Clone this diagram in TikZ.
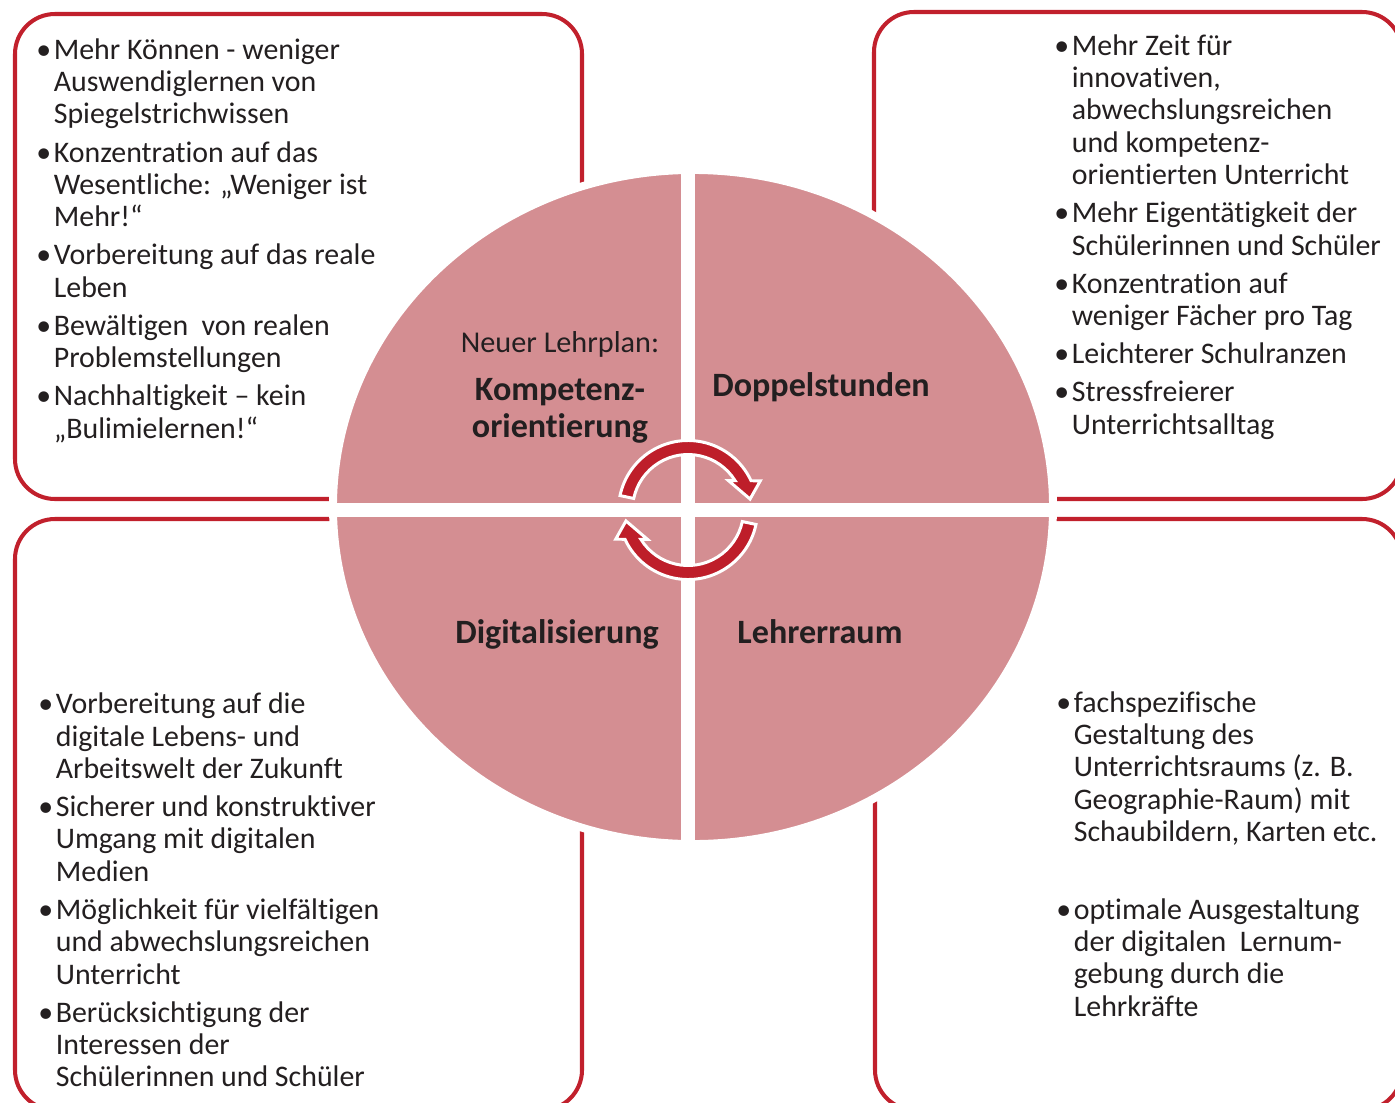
\documentclass[tikz,border=0pt]{standalone}
\usepackage{fontspec}
\setmainfont{Carlito}[Ligatures=NoCommon]
\usepackage{tikz}
\usetikzlibrary{positioning, calc}

\definecolor{boxred}{RGB}{193,32,44}
\definecolor{arrowred}{RGB}{190,30,42}
\definecolor{quadpink}{RGB}{212,142,146}
\definecolor{textdark}{RGB}{35,31,32}

\newcommand{\itembul}{\makebox[0.35cm][l]{\textbullet}}
\newcommand{\itemind}{\hspace*{0.35cm}}

\begin{document}
\begin{tikzpicture}[
  x=0.02cm, y=0.02cm,
  infobox/.style={draw=boxred, line width=2.3pt, rounded corners=0.8cm},
  listtext/.style={anchor=north west, inner sep=0pt, align=left, text=textdark, font=\fontsize{17}{18.4}\selectfont},
  smallword/.style={anchor=base, inner sep=0pt, text=textdark, font=\fontsize{17.2}{18.4}\selectfont},
  bigword/.style={anchor=base, inner sep=0pt, text=textdark, font=\fontsize{19.4}{21}\selectfont\bfseries},
  turnarrow/.style={fill=arrowred, draw=white, line width=1.7pt, line join=miter}
]
\useasboundingbox (0,0) rectangle (1395,-1102);

% Four frames round the disc
\draw[infobox] (15,-14) rectangle (582,-499);
\draw[infobox] (874,-12) rectangle (1402,-499);
\draw[infobox] (15,-519) rectangle (582,-1110);
\draw[infobox] (875,-519) rectangle (1402,-1110);

% Centre disc, cut into quarters
\draw[fill=quadpink, draw=white, line width=4.5pt] (693,-507) ellipse [x radius=360, y radius=337];
\begin{scope}
  \clip (693,-507) ellipse [x radius=360, y radius=337];
  \draw[white, line width=8.5pt] (688,-140) -- (688,-880);
  \draw[white, line width=8.5pt] (320,-510) -- (1070,-510);
\end{scope}

% Quarter titles
\node[smallword] (lehrplan) at (560,-352) {Neuer Lehrplan:};
\node[bigword] (kompetenz) at (560,-400) {Kompetenz-};
\node[bigword] (orientierung) at (560,-437) {orientierung};
\node[bigword] (doppel) at (821,-396) {Doppelstunden};
\node[bigword] (digital) at (557,-643) {Digitalisierung};
\node[bigword] (lehrer) at (820,-643) {Lehrerraum};

% Turning arrows in the middle
\begin{scope}[shift={(688,-510)}]
  \draw[turnarrow] (168:69.5) arc[start angle=168, end angle=24.9, radius=69.5]
    -- (22:78) -- (10:63) -- (36:50) -- (31.9:55.5)
    arc[start angle=31.9, end angle=168, radius=55.5] -- cycle;
  \draw[turnarrow] (-12:69.5) arc[start angle=-12, end angle=-155.1, radius=69.5]
    -- (-158:78) -- (-170:63) -- (-144:50) -- (-148.1:55.5)
    arc[start angle=-148.1, end angle=-12, radius=55.5] -- cycle;
\end{scope}

% Top left: Kompetenzorientierung
\node[listtext] (listkomp) at (36,-36.3) {%
  \itembul\strut Mehr Können - weniger\\
  \itemind Auswendiglernen von\\
  \itemind Spiegelstrichwissen\\[3.3pt]
  \itembul Konzentration auf das\\
  \itemind Wesentliche: „Weniger ist\\
  \itemind Mehr!“\\[3.3pt]
  \itembul Vorbereitung auf das reale\\
  \itemind Leben\\[3.3pt]
  \itembul Bewältigen\ \ von realen\\
  \itemind Problemstellungen\\[3.3pt]
  \itembul Nachhaltigkeit – kein\\
  \itemind „Bulimielernen!“};

% Top right: Doppelstunden
\node[listtext] (listdoppel) at (1054,-32.3) {%
  \itembul\strut Mehr Zeit für\\
  \itemind innovativen,\\
  \itemind abwechslungsreichen\\
  \itemind und kompetenz-\\
  \itemind orientierten Unterricht\\[3.3pt]
  \itembul Mehr Eigentätigkeit der\\
  \itemind Schülerinnen und Schüler\\[3.3pt]
  \itembul Konzentration auf\\
  \itemind weniger Fächer pro Tag\\[3.3pt]
  \itembul Leichterer Schulranzen\\[3.3pt]
  \itembul Stressfreierer\\
  \itemind Unterrichtsalltag};

% Bottom left: Digitalisierung
\node[listtext] (listdigital) at (38,-690.8) {%
  \itembul\strut Vorbereitung auf die\\
  \itemind digitale Lebens- und\\
  \itemind Arbeitswelt der Zukunft\\[3.3pt]
  \itembul Sicherer und konstruktiver\\
  \itemind Umgang mit digitalen\\
  \itemind Medien\\[3.3pt]
  \itembul Möglichkeit für vielfältigen\\
  \itemind und abwechslungsreichen\\
  \itemind Unterricht\\[3.3pt]
  \itembul Berücksichtigung der\\
  \itemind Interessen der\\
  \itemind Schülerinnen und Schüler};

% Bottom right: Lehrerraum
\node[listtext] (listlehrer) at (1056,-689.3) {%
  \itembul\strut fachspezifische\\
  \itemind Gestaltung des\\
  \itemind Unterrichtsraums (z. B.\\
  \itemind Geographie-Raum) mit\\
  \itemind Schaubildern, Karten etc.\\[25.8pt]
  \itembul optimale Ausgestaltung\\
  \itemind der digitalen\ \ Lernum-\\
  \itemind gebung durch die\\
  \itemind Lehrkräfte};

\end{tikzpicture}
\end{document}
